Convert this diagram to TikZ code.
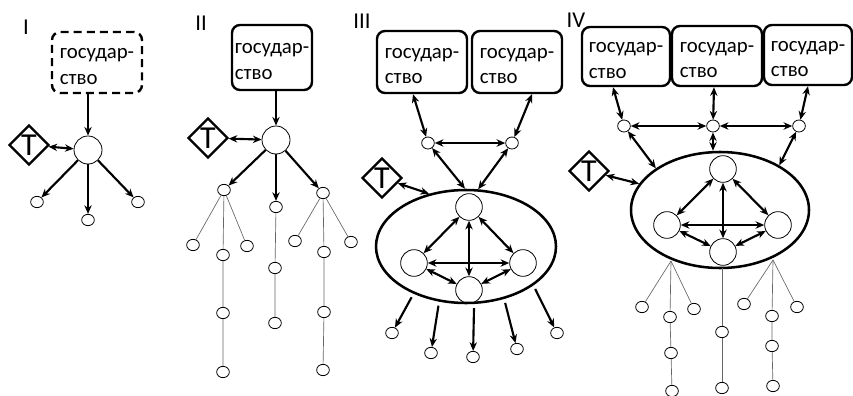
\documentclass[tikz,border=0pt]{standalone}
\usepackage{fontspec}
\setmainfont{Carlito}
\usetikzlibrary{shapes.geometric,arrows.meta}
\begin{document}
\begin{tikzpicture}[x=0.75pt,y=-0.75pt,
  box/.style={draw,line width=1.8pt,rounded corners=6pt,align=left,
    font=\fontsize{15.6}{19.2}\selectfont,inner sep=0pt},
  dbox/.style={box,dash pattern=on 6pt off 3.8pt},
  lab/.style={font=\fontsize{17}{18}\selectfont,inner sep=0pt},
  tdia/.style={diamond,draw,line width=1.8pt,minimum size=30pt,inner sep=0pt,
    font=\fontsize{24}{24}\selectfont},
  bigc/.style={circle,draw,line width=0.6pt,minimum size=21pt,inner sep=0pt},
  inc/.style={circle,draw,line width=0.6pt,minimum size=20pt,inner sep=0pt},
  smc/.style={ellipse,draw,line width=0.6pt,minimum width=9.5pt,minimum height=8.5pt,inner sep=0pt},
  grp/.style={ellipse,draw,line width=1.9pt,inner sep=0pt},
  tip/.tip={Stealth[length=6.5pt,width=5.5pt]},
  arr/.style={line width=1.6pt,-tip},
  darr/.style={line width=1.6pt,tip-tip},
  tl/.style={line width=0.5pt,black!60}
]
\newcommand\gos{\strut государ-\\ство}
\useasboundingbox (0,0) rectangle (853,396);

% ---------- Panel I ----------
\node[lab] (LI) at (26,27) {I};
\node[dbox,minimum width=67.5pt,minimum height=45.75pt] (boxI) at (97,62.5) {\gos};
\node[bigc] (BI) at (88,150) {};
\node[tdia] (TI) at (29,145) {T};
\node[smc] (sI1) at (37,202) {};
\node[smc] (sI2) at (88,220) {};
\node[smc] (sI3) at (138,202) {};
\draw[arr] (BI |- boxI.south) -- (BI);
\draw[darr] (TI) -- (BI);
\draw[arr] (BI) -- (sI1);
\draw[arr] (BI) -- (sI2);
\draw[arr] (BI) -- (sI3);

% ---------- Panel II ----------
\node[lab] (LII) at (201,23.5) {II};
\node[box,minimum width=60pt,minimum height=48.75pt] (boxII) at (272,57.5) {\gos};
\node[bigc] (BII) at (276,140) {};
\node[tdia] (TII) at (208,138) {T};
\node[smc] (a1) at (224,190) {};
\node[smc] (a2) at (276,207) {};
\node[smc] (a3) at (323,193) {};
\draw[arr] (BII |- boxII.south) -- (BII);
\draw[darr] (TII) -- (BII);
\draw[arr] (BII) -- (a1);
\draw[arr] (BII) -- (a2);
\draw[arr] (BII) -- (a3);
\node[smc] (t1a) at (193,245) {};
\node[smc] (t1b) at (247,246) {};
\node[smc] (t1c) at (223,255) {};
\node[smc] (t1d) at (223,313) {};
\node[smc] (t1e) at (223,372) {};
\node[smc] (t2a) at (275,268) {};
\node[smc] (t2b) at (275,323) {};
\node[smc] (t3a) at (295,241) {};
\node[smc] (t3b) at (351,242) {};
\node[smc] (t3c) at (324,252) {};
\node[smc] (t3d) at (324,312) {};
\node[smc] (t3e) at (323,370) {};
\draw[tl] (a1) -- (t1a);
\draw[tl] (a1) -- (t1b);
\draw[tl] (a1) -- (t1c) -- (t1d) -- (t1e);
\draw[tl] (a2) -- (t2a) -- (t2b);
\draw[tl] (a3) -- (t3a);
\draw[tl] (a3) -- (t3b);
\draw[tl] (a3) -- (t3c) -- (t3d) -- (t3e);

% ---------- Panel III ----------
\node[lab] (LIII) at (362,21) {III};
\node[box,minimum width=67.5pt,minimum height=46.5pt] (boxA) at (422,62) {\gos};
\node[box,minimum width=67.5pt,minimum height=46.5pt] (boxB) at (517,62) {\gos};
\node[smc,minimum width=9.5pt,minimum height=9pt] (c1) at (428,143) {};
\node[smc,minimum width=9.5pt,minimum height=9pt] (c2) at (512,143) {};
\node[grp,minimum width=135pt,minimum height=84.75pt] (E3) at (466,246.5) {};
\node[tdia] (T3) at (382,178) {T};
\node[inc] (n1) at (469,207) {};
\node[inc] (n2) at (414,263) {};
\node[inc] (n3) at (523,263) {};
\node[inc] (n4) at (469,290) {};
\draw[darr] ([xshift=-6.75pt]boxA.south) -- (c1);
\draw[darr] ([xshift=11.25pt]boxB.south) -- (c2);
\draw[darr] (c1) -- (c2);
\draw[darr] (c1) -- (E3.91);
\draw[darr] (c2) -- (E3.78);
\draw[darr] (T3) -- (E3.125);
\draw[darr] (n1) -- (n2);
\draw[darr] (n1) -- (n3);
\draw[darr] (n1) -- (n4);
\draw[darr] (n2) -- (n3);
\draw[darr] (n2) -- (n4);
\draw[darr] (n3) -- (n4);
\node[smc] (d1) at (392,333) {};
\node[smc] (d2) at (431,353) {};
\node[smc] (d3) at (473,357) {};
\node[smc] (d4) at (517,349) {};
\node[smc] (d5) at (557,333) {};
\draw[arr,shorten <=3pt] (E3.222) -- (d1);
\draw[arr,shorten <=3pt] (E3.244) -- (d2);
\draw[arr,shorten <=3pt] (E3.278) -- (d3);
\draw[arr,shorten <=3pt] (E3.306) -- (d4);
\draw[arr,shorten <=3pt] (E3.330) -- (d5);

% ---------- Panel IV ----------
\node[lab] (LIV) at (576,20.5) {IV};
\node[box,minimum width=66pt,minimum height=44.25pt] (P1) at (626,56.5) {\gos};
\node[box,minimum width=67.5pt,minimum height=45pt] (P2) at (717,56) {\gos};
\node[box,minimum width=66pt,minimum height=45pt] (P3) at (808,55) {\gos};
\node[smc,minimum width=9.5pt,minimum height=9pt] (e1) at (624,126) {};
\node[smc,minimum width=9.5pt,minimum height=9pt] (e2) at (713,126) {};
\node[smc,minimum width=9.5pt,minimum height=9pt] (e3) at (799,126) {};
\node[grp,minimum width=133.5pt,minimum height=87pt] (E4) at (720,210) {};
\node[tdia] (T4) at (589,171) {T};
\node[inc] (m1) at (723,169) {};
\node[inc] (m2) at (667,225) {};
\node[inc] (m3) at (778,225) {};
\node[inc] (m4) at (723,252) {};
\draw[darr] ([xshift=-9.75pt]P1.south) -- (e1);
\draw[darr] ([xshift=-2.25pt]P2.south) -- (e2);
\draw[darr] (P3.south) -- (e3);
\draw[darr] (e1) -- (e2);
\draw[darr] (e2) -- (e3);
\draw[darr] (e1) -- (E4.147);
\draw[darr] (e2) -- (e2 |- E4.north);
\draw[darr] (e3) -- (E4.37);
\draw[darr] (T4) -- (E4.162);
\draw[darr] (m1) -- (m2);
\draw[darr] (m1) -- (m3);
\draw[darr] (m1) -- (m4);
\draw[darr] (m2) -- (m3);
\draw[darr] (m2) -- (m4);
\draw[darr] (m3) -- (m4);
\coordinate (r1) at (671,261);
\coordinate (r2) at (722,268);
\coordinate (r3) at (773,260);
\node[smc] (u1) at (642,307) {};
\node[smc] (u2) at (694,309) {};
\node[smc] (u3) at (670,317) {};
\node[smc] (u4) at (671,353) {};
\node[smc] (u5) at (672,391) {};
\node[smc] (v1) at (722,332) {};
\node[smc] (v2) at (722,388) {};
\node[smc] (w1) at (744,304) {};
\node[smc] (w2) at (797,307) {};
\node[smc] (w3) at (772,316) {};
\node[smc] (w4) at (772,346) {};
\node[smc] (w5) at (773,386) {};
\draw[tl] (r1) -- (u1);
\draw[tl] (r1) -- (u2);
\draw[tl] (r1) -- (u3) -- (u4) -- (u5);
\draw[tl] (r2) -- (v1) -- (v2);
\draw[tl] (r3) -- (w1);
\draw[tl] (r3) -- (w2);
\draw[tl] (r3) -- (w3) -- (w4) -- (w5);
\end{tikzpicture}
\end{document}
